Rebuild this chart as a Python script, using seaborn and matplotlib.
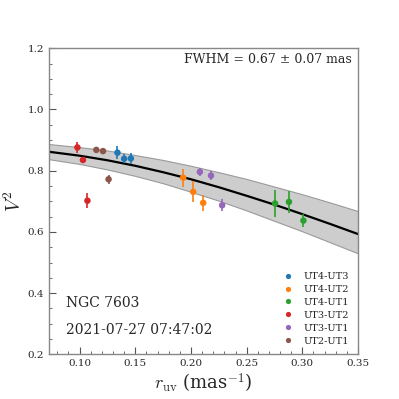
import matplotlib
matplotlib.use("Agg")
import matplotlib.pyplot as plt
import seaborn as sns
import pandas as pd
from matplotlib.ticker import MultipleLocator

# Measured squared visibilities per baseline
baseline = ["UT4-UT3"] * 3 + ["UT4-UT2"] * 3 + ["UT4-UT1"] * 3 + \
           ["UT3-UT2"] * 3 + ["UT3-UT1"] * 3 + ["UT2-UT1"] * 3
r_uv = [0.134, 0.140, 0.146,
        0.193, 0.202, 0.211,
        0.2755, 0.288, 0.301,
        0.098, 0.103, 0.107,
        0.208, 0.218, 0.228,
        0.115, 0.121, 0.126]
v2 = [0.859, 0.839, 0.840,
      0.777, 0.731, 0.695,
      0.693, 0.698, 0.637,
      0.876, 0.835, 0.702,
      0.796, 0.784, 0.687,
      0.868, 0.864, 0.772]
v2_err = [0.021, 0.015, 0.018,
          0.030, 0.034, 0.027,
          0.044, 0.036, 0.022,
          0.019, 0.009, 0.025,
          0.0125, 0.015, 0.019,
          0.011, 0.010, 0.014]
order = ["UT4-UT3", "UT4-UT2", "UT4-UT1", "UT3-UT2", "UT3-UT1", "UT2-UT1"]

# Gaussian model curve and its uncertainty band
model_r = [0.07, 0.10, 0.125, 0.15, 0.175, 0.20, 0.225, 0.25, 0.275, 0.30, 0.325, 0.35]
model_v2 = [0.863, 0.849, 0.834, 0.816, 0.795, 0.772, 0.746, 0.718, 0.689, 0.658, 0.626, 0.593]
model_hi = [0.888, 0.877, 0.866, 0.851, 0.835, 0.816, 0.795, 0.773, 0.748, 0.723, 0.696, 0.668]
model_lo = [0.839, 0.822, 0.804, 0.783, 0.759, 0.731, 0.702, 0.670, 0.636, 0.602, 0.566, 0.530]

df = pd.DataFrame({"baseline": baseline, "r_uv": r_uv, "v2": v2, "err": v2_err})

sns.set_style("ticks")
plt.rcParams["font.family"] = ["DejaVu Serif"]
plt.rcParams["mathtext.fontset"] = "cm"

palette = dict(zip(order, sns.color_palette("tab10", len(order))))

fig = plt.figure(figsize=(3.99, 3.99), dpi=100)
ax = fig.add_axes([0.1228, 0.112, 0.7744, 0.767])

ax.fill_between(model_r, model_lo, model_hi, color="#cdcdcd", edgecolor="#9a9a9a",
                linewidth=0.8, zorder=1)
sns.lineplot(x=model_r, y=model_v2, color="black", linewidth=1.6, ax=ax, zorder=2)

for name, grp in df.groupby("baseline"):
    ax.errorbar(grp["r_uv"], grp["v2"], yerr=grp["err"], fmt="none",
                ecolor=palette[name], elinewidth=1.2, capsize=0, zorder=3)
sns.scatterplot(data=df, x="r_uv", y="v2", hue="baseline", hue_order=order,
                palette=palette, s=22, edgecolor="none", ax=ax, zorder=4)

ax.set_xlim(0.0725, 0.35)
ax.set_ylim(0.2, 1.2)
ax.xaxis.set_major_locator(MultipleLocator(0.05))
ax.xaxis.set_minor_locator(MultipleLocator(0.01))
ax.yaxis.set_major_locator(MultipleLocator(0.2))
ax.yaxis.set_minor_locator(MultipleLocator(0.05))
ax.tick_params(which="both", direction="in", color="#555555", labelsize=7.5)
ax.tick_params(which="major", length=5)
ax.tick_params(which="minor", length=2.5)
for sp in ax.spines.values():
    sp.set_color("#888888")
    sp.set_linewidth(1.0)

ax.set_xlabel(r"$r_{\rm uv}$ (mas$^{-1}$)", fontsize=13, labelpad=2)
ax.set_ylabel(r"$V^2$", fontsize=14, labelpad=2)

ax.text(0.98, 0.962, "FWHM = 0.67 ± 0.07 mas", transform=ax.transAxes,
        ha="right", va="center", fontsize=9)
ax.text(0.055, 0.169, "NGC 7603", transform=ax.transAxes,
        ha="left", va="center", fontsize=10)
ax.text(0.055, 0.079, "2021-07-27 07:47:02", transform=ax.transAxes,
        ha="left", va="center", fontsize=10)

ax.legend(loc="lower right", frameon=False, fontsize=7, markerscale=0.8,
          handletextpad=0.6, labelspacing=0.4, borderaxespad=0.5)

fig.savefig("out.png", dpi=100)
